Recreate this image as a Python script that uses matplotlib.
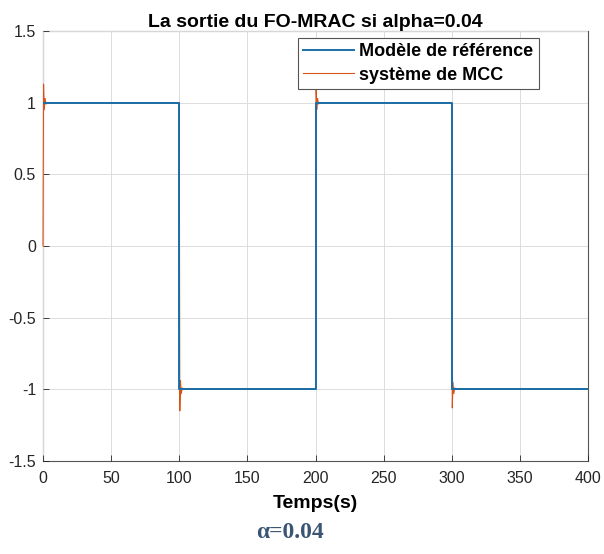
import numpy as np
import matplotlib
matplotlib.use("Agg")
import matplotlib.pyplot as plt

# modele de reference (creneau)
t_ref = [0, 100, 100, 200, 200, 300, 300, 400]
y_ref = [1, 1, -1, -1, 1, 1, -1, -1]

# systeme MCC (pics de transition)
t_mcc = [0, 0.4, 0.9, 1.5, 2.2, 3.0, 100,
         100, 100.4, 100.9, 101.5, 102.2, 103.0, 200,
         200, 200.4, 200.9, 201.5, 202.2, 203.0, 300,
         300, 300.4, 300.9, 301.5, 302.2, 303.0, 400]
y_mcc = [0, 1.13, 0.95, 1.03, 0.99, 1.0, 1.0,
         1.0, -1.15, -0.94, -1.03, -0.99, -1.0, -1.0,
         -1.0, 1.17, 0.95, 1.03, 0.99, 1.0, 1.0,
         1.0, -1.13, -0.95, -1.03, -0.99, -1.0, -1.0]

x_ticks = [0, 50, 100, 150, 200, 250, 300, 350, 400]
y_ticks = [-1.5, -1, -0.5, 0, 0.5, 1, 1.5]
y_tick_labels = ["-1.5", "-1", "-0.5", "0", "0.5", "1", "1.5"]

plt.rcParams["font.family"] = ["Liberation Sans", "DejaVu Sans"]

fig = plt.figure(figsize=(6.04, 5.54), dpi=100)
ax = fig.add_axes([43 / 604, 1 - 461 / 554, (588 - 43) / 604, (461 - 31) / 554])

ax.plot(t_ref, y_ref, color="#1b6ea8", linewidth=1.4, label="Modèle de référence", zorder=3)
ax.plot(t_mcc, y_mcc, color="#D95319", linewidth=0.8, label="système de MCC", zorder=2,
        clip_on=False)

ax.set_xlim(0, 400)
ax.set_ylim(-1.5, 1.5)
ax.set_xticks(x_ticks)
ax.set_yticks(y_ticks)
ax.set_yticklabels(y_tick_labels)
ax.tick_params(labelsize=11.5, colors="#262626", direction="in", length=4, width=0.6)
ax.tick_params(axis="x", pad=7)
ax.tick_params(axis="y", pad=5)
ax.grid(True, color="#dcdcdc", linewidth=0.7)
for s in ax.spines.values():
    s.set_color("#555555")
    s.set_linewidth(0.8)
    s.set_zorder(1)

ax.set_title("La sortie du FO-MRAC si alpha=0.04", fontsize=14, fontweight="bold", pad=2)
ax.set_xlabel("Temps(s)", fontsize=14, fontweight="bold", labelpad=7)

leg = ax.legend(loc="upper left", bbox_to_anchor=((298 - 43) / 545, 1 - 7 / 430),
                prop={"weight": "bold", "size": 13}, fancybox=False,
                framealpha=1, edgecolor="#555555", borderpad=0.3,
                handlelength=2.8, handletextpad=0.3, labelspacing=0.35,
                borderaxespad=0)
leg.get_frame().set_linewidth(0.8)
leg.set_zorder(5)

fig.text(290 / 604, 1 - 532 / 554, "α=0.04", ha="center", va="center",
         fontsize=17, fontweight="bold", color="#3b5575",
         family=["Liberation Serif", "DejaVu Serif"])

fig.savefig("out.png", dpi=100)
